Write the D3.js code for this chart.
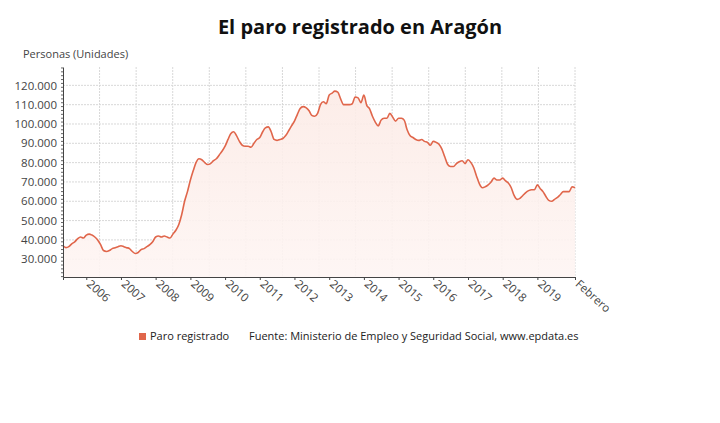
<!DOCTYPE html>
<meta charset="utf-8">
<script src="https://d3js.org/d3.v7.min.js"></script>
<style>
  body { margin:0; background:#fff; }
  text { font-family: "Open Sans", sans-serif; }
</style>
<svg id="chart" width="720" height="423"></svg>
<script>

// monthly data, May 2005 .. Feb 2020
var startMonth = new Date(2005, 4, 1);
var paro = [
  37000,36000,36500,38000,39000,40500,41500,41000,
  42500,43000,42500,41500,40000,37500,34500,34000,34500,35500,36000,36500,
  37000,36500,36000,35500,34000,33000,33500,35000,35500,36500,37500,39000,
  41500,42000,41500,42000,41500,41000,43000,45000,48000,53000,60000,65000,
  71000,76000,80000,82000,81500,80000,79000,79500,81000,82000,84000,86000,
  88500,92000,95000,96000,94000,91000,89000,88500,88500,88000,90000,92000,
  93000,96000,98000,98500,96000,92000,91500,92000,92500,94000,96500,99000,
  101500,105000,108000,109000,108500,107000,104500,104000,105500,110000,111500,110500,
  115000,116000,117000,116500,113000,110000,110000,110000,110500,114000,113500,111000,
  115000,109500,108000,104000,101000,99000,102000,103000,103000,105500,103500,101500,
  103000,103000,102000,97000,94000,93000,92000,91500,92000,91000,90500,89000,
  91000,90500,89500,87000,83000,79000,78000,78000,79500,80500,81000,79500,
  81500,80000,77500,73000,69000,67000,67500,68500,70000,72000,71000,71000,
  72000,70500,69500,67000,63000,61000,61500,63000,64500,65500,66000,66000,
  68500,66500,65000,62500,60500,60000,61000,62000,63500,65000,65000,65000,
  67500,67000
];
var yTicks = [30000,40000,50000,60000,70000,80000,90000,100000,110000,120000];
var xYears = [2006,2007,2008,2009,2010,2011,2012,2013,2014,2015,2016,2017,2018,2019];
var lastLabel = "Febrero";

var data = paro.map(function(v, i) {
  return { date: new Date(startMonth.getFullYear(), startMonth.getMonth() + i, 1), value: v };
});

var pLeft = 63, pRight = 575, pTop = 67, pBottom = 277;
var svg = d3.select("#chart");

var x = d3.scaleTime()
  .domain(d3.extent(data, function(d) { return d.date; }))
  .range([pLeft, pRight]);
var y = d3.scaleLinear()
  .domain([20800, 129500])
  .range([pBottom, pTop]);

var fmt = function(v) { return d3.format(",")(v).replace(/,/g, "."); };

// gradient for area
var grad = svg.append("defs").append("linearGradient")
  .attr("id", "fillGrad").attr("x1", 0).attr("y1", 0).attr("x2", 0).attr("y2", 1);
grad.append("stop").attr("offset", "0%").attr("stop-color", "#fcebe6");
grad.append("stop").attr("offset", "100%").attr("stop-color", "#fef5f3");

// horizontal grid
svg.append("g").selectAll("line").data(yTicks).enter().append("line")
  .attr("x1", pLeft).attr("x2", pRight)
  .attr("y1", function(d) { return y(d); }).attr("y2", function(d) { return y(d); })
  .attr("stroke", "#d8d8d8").attr("stroke-dasharray", "2,1");

// vertical grid: 14 equal divisions
var vg = d3.range(1, 15).map(function(k) { return pLeft + k * (pRight - pLeft) / 14; });
svg.append("g").selectAll("line").data(vg).enter().append("line")
  .attr("x1", function(d) { return d; }).attr("x2", function(d) { return d; })
  .attr("y1", pTop).attr("y2", pBottom)
  .attr("stroke", "#d8d8d8").attr("stroke-dasharray", "2,1");

// area + line
svg.append("path").datum(data)
  .attr("fill", "url(#fillGrad)").attr("fill-opacity", 0.9)
  .attr("d", d3.area().curve(d3.curveMonotoneX).x(function(d) { return x(d.date); }).y0(pBottom).y1(function(d) { return y(d.value); }));
svg.append("path").datum(data)
  .attr("fill", "none").attr("stroke", "#e0664b").attr("stroke-width", 1.6)
  .attr("d", d3.line().curve(d3.curveMonotoneX).x(function(d) { return x(d.date); }).y(function(d) { return y(d.value); }));

// y axis
var ya = svg.append("g").attr("transform", "translate(" + pLeft + ",0)")
  .call(d3.axisLeft(y).tickValues(yTicks).tickSize(0).tickPadding(6).tickFormat(fmt));
ya.select(".domain").attr("stroke", "#444");
ya.selectAll("text").attr("font-size", 11.5).attr("fill", "#444").attr("font-family", "Open Sans");
// minor ticks on y axis
svg.append("g").selectAll("line").data(d3.range(21000, 129500, 2000)).enter().append("line")
  .attr("x1", pLeft - 2).attr("x2", pLeft)
  .attr("y1", function(d) { return y(d); }).attr("y2", function(d) { return y(d); })
  .attr("stroke", "#666");

// x axis
var tickDates = xYears.map(function(yr) { return new Date(yr, 0, 1); });
tickDates.push(data[data.length - 1].date);
var xa = svg.append("g").attr("transform", "translate(0," + pBottom + ")")
  .call(d3.axisBottom(x).tickValues(tickDates).tickSize(3)
    .tickFormat(function(d, i) { return i < xYears.length ? xYears[i] : lastLabel; }));
xa.select(".domain").attr("stroke", "#444");
xa.selectAll("line").attr("stroke", "#444");
xa.selectAll("text")
  .attr("font-size", 11.5).attr("fill", "#444").attr("font-family", "Open Sans")
  .attr("text-anchor", "start")
  .attr("transform", "translate(2,5) rotate(42)")
  .attr("dy", "0.35em").attr("y", 0).attr("x", 0);

// title
svg.append("text").attr("x", 360).attr("y", 34).attr("text-anchor", "middle")
  .attr("font-size", 20).attr("font-weight", "bold").attr("fill", "#111")
  .text("El paro registrado en Aragón");
svg.append("text").attr("x", 23).attr("y", 58)
  .attr("font-size", 11).attr("fill", "#444").text("Personas (Unidades)");

// legend
svg.append("rect").attr("x", 139).attr("y", 333).attr("width", 7).attr("height", 7).attr("fill", "#e0664b");
svg.append("text").attr("x", 150).attr("y", 340).attr("font-size", 11).attr("fill", "#222").text("Paro registrado");
svg.append("text").attr("x", 249).attr("y", 340).attr("font-size", 11).attr("fill", "#222")
  .text("Fuente: Ministerio de Empleo y Seguridad Social, www.epdata.es");

</script>
